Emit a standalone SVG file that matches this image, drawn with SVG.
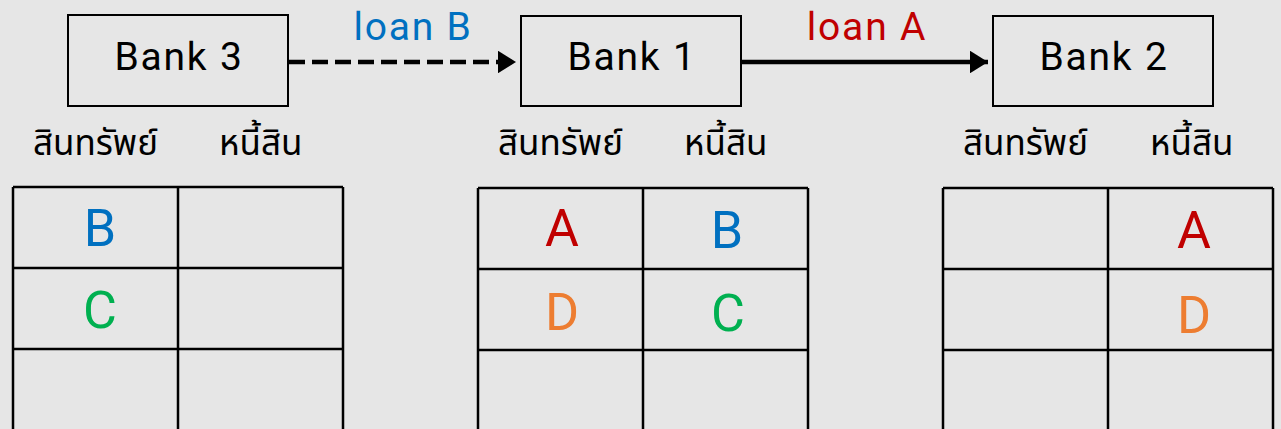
<svg xmlns="http://www.w3.org/2000/svg" width="1281" height="429" viewBox="0 0 1281 429">
<defs>
<style>
.bank{fill:none;stroke:#000;stroke-width:2}
.bt{font-family:Roboto,"Liberation Sans",sans-serif;font-size:39px;letter-spacing:1.8px;fill:#000;text-anchor:middle}
.th{font-family:"Noto Sans Thai","Noto Sans","DejaVu Sans",sans-serif;font-size:35px;fill:#000}
.cell{fill:none;stroke:#000;stroke-width:2.5}
.lt{font-family:Roboto,"Liberation Sans",sans-serif;font-size:52px;text-anchor:middle}
.ll{font-family:Roboto,"Liberation Sans",sans-serif;font-size:39px;letter-spacing:1.8px;text-anchor:middle}
.blue{fill:#0070C0}.red{fill:#C00000}.green{fill:#00B050}.orange{fill:#ED7D31}
</style>
<marker id="ah" markerWidth="5" markerHeight="5" refX="4" refY="2.5" orient="auto" markerUnits="strokeWidth">
<path d="M0,0 L4,2.5 L0,5 Z" fill="#000"/>
</marker>
</defs>
<rect width="1281" height="429" fill="#E6E6E6"/>
<g id="connectors">
<line x1="289" y1="62" x2="516" y2="62" stroke="#000" stroke-width="4.5" stroke-dasharray="16,7" marker-end="url(#ah)"/>
<line x1="742" y1="62" x2="988" y2="62" stroke="#000" stroke-width="4.5" marker-end="url(#ah)"/>
<text class="ll blue" x="413" y="40">loan B</text>
<text class="ll red" x="867" y="40">loan A</text>
</g>
<g id="bank3">
<rect class="bank" x="68" y="15" width="220" height="91"/>
<text class="bt" x="179" y="70">Bank 3</text>
<text class="th" x="33" y="155">สินทรัพย์</text>
<text class="th" x="219" y="155">หนี้สิน</text>
</g>
<g id="bank1">
<rect class="bank" x="521" y="16" width="220" height="90"/>
<text class="bt" x="632" y="70">Bank 1</text>
<text class="th" x="498" y="155">สินทรัพย์</text>
<text class="th" x="684" y="155">หนี้สิน</text>
</g>
<g id="bank2">
<rect class="bank" x="993" y="16" width="220" height="90"/>
<text class="bt" x="1104" y="70">Bank 2</text>
<text class="th" x="963" y="155">สินทรัพย์</text>
<text class="th" x="1150" y="155">หนี้สิน</text>
</g>
<g id="table3">
<path class="cell" d="M13,187 H343 M13,268 H343 M13,349 H343 M13,187 V440 M178,187 V440 M343,187 V440"/>
<text class="lt blue" x="100" y="246">B</text>
<text class="lt green" x="100" y="328">C</text>
</g>
<g id="table1">
<path class="cell" d="M478,188 H808 M478,269 H808 M478,350 H808 M478,188 V440 M643,188 V440 M808,188 V440"/>
<text class="lt red" x="562" y="246">A</text>
<text class="lt blue" x="727" y="248">B</text>
<text class="lt orange" x="562" y="330">D</text>
<text class="lt green" x="728" y="331">C</text>
</g>
<g id="table2">
<path class="cell" d="M943,188 H1273 M943,269 H1273 M943,350 H1273 M943,188 V440 M1108,188 V440 M1273,188 V440"/>
<text class="lt red" x="1194" y="248">A</text>
<text class="lt orange" x="1194" y="333">D</text>
</g>
</svg>
